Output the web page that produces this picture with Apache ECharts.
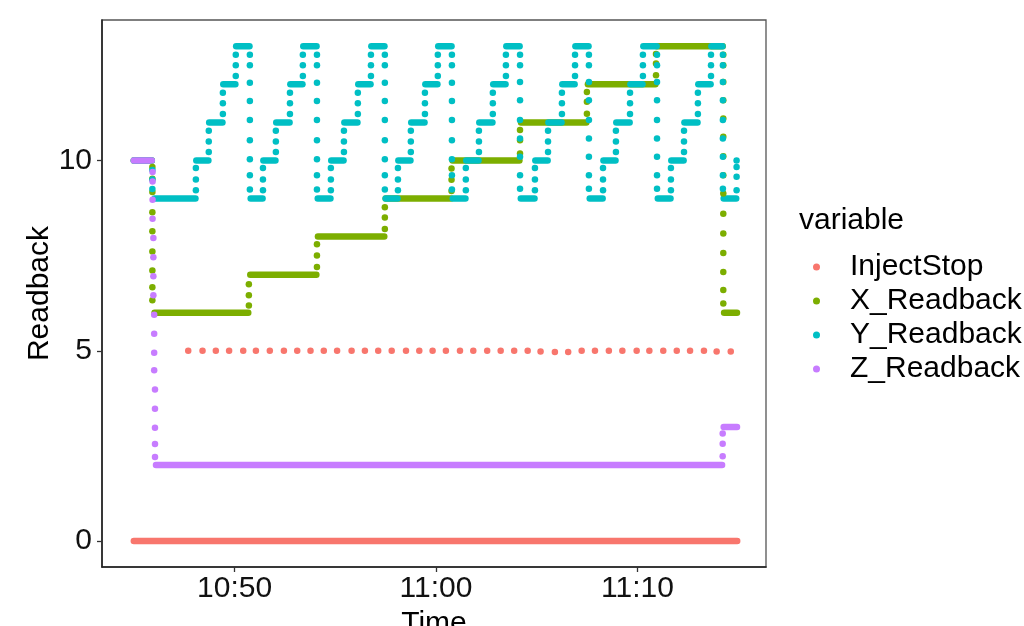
<!DOCTYPE html>
<html>
<head>
<meta charset="utf-8">
<script src="https://cdn.jsdelivr.net/npm/echarts@6/dist/echarts.min.js"></script>
<style>
  html, body { margin: 0; padding: 0; background: #fff; }
  #chart { width: 1024px; height: 626px; }
</style>
</head>
<body>
<div id="chart"></div>
<script>
// time axis is in minutes after 10:00
const xTicks = [50, 60, 70];
const yTicks = [0, 5, 10];
const variables = ['InjectStop', 'X_Readback', 'Y_Readback', 'Z_Readback'];
const colors = ['#F8766D', '#7CAE00', '#00BFC4', '#C77CFF'];

// runs = dense stretches of points held at one value: [from, to, value]
// dots = single readings: [time, [values at that time]]
const injectRuns = [[45.00, 74.95, 0]];
const injectDots = [
  [47.70, [5]], [48.41, [5]], [49.07, [5]], [49.73, [5]], [50.43, [5]], [51.06, [5]],
  [51.75, [5]], [52.45, [5]], [53.11, [5]], [53.77, [5]], [54.43, [5]], [55.09, [5]],
  [55.81, [5]], [56.47, [5]], [57.13, [5]], [57.80, [5]], [58.51, [5]], [59.17, [5]],
  [59.83, [5]], [60.49, [5]], [61.19, [5]], [61.85, [5]], [62.54, [5]], [63.21, [5]],
  [63.88, [5]], [64.55, [5]], [65.19, [4.98]], [65.90, [4.97]], [66.56, [4.97]], [67.23, [5]],
  [67.89, [5]], [68.58, [5]], [69.25, [5]], [69.96, [5]], [70.59, [5]], [71.28, [5]],
  [71.95, [5]], [72.61, [5]], [73.30, [5]], [73.93, [4.98]], [74.63, [4.98]]
];

const xRuns = [
  [45.00, 45.89, 10], [46.03, 50.68, 6], [50.78, 54.06, 7], [54.14, 57.43, 8],
  [57.50, 60.74, 9], [60.82, 64.14, 10], [64.22, 67.46, 11], [67.54, 70.89, 12],
  [70.97, 74.23, 13], [74.30, 74.94, 6]
];
const xDots = [
  [45.92, [9.83, 9.52, 9.17, 8.64, 8.14, 7.61, 7.11, 6.67, 6.33]],
  [50.71, [6.19, 6.46, 6.75]],
  [54.09, [7.2, 7.5, 7.8]],
  [57.46, [8.2, 8.5, 8.77]],
  [60.77, [9.2, 9.49, 9.79]],
  [64.17, [10.18, 10.53, 10.8]],
  [67.49, [11.23, 11.54, 11.8]],
  [70.92, [12.24, 12.55, 12.8]],
  [74.26, [12.78, 12.5, 12.06, 11.58, 11.1, 10.62, 10.11, 9.61, 9.13, 8.6, 8.08, 7.57, 7.07, 6.6, 6.24]]
];

const yRuns = [
  [45.00, 45.89, 10], [46.03, 48.06, 9],
  [48.10, 48.70, 10], [48.74, 49.40, 11], [49.44, 50.04, 12], [50.08, 50.74, 13], [50.80, 51.39, 9],
  [51.43, 52.03, 10], [52.07, 52.73, 11], [52.77, 53.37, 12], [53.41, 54.07, 13], [54.13, 54.76, 9],
  [54.80, 55.41, 10], [55.45, 56.10, 11], [56.14, 56.75, 12], [56.79, 57.44, 13], [57.50, 58.09, 9],
  [58.13, 58.73, 10], [58.77, 59.43, 11], [59.47, 60.07, 12], [60.11, 60.77, 13], [60.83, 61.46, 9],
  [61.50, 62.11, 10], [62.15, 62.80, 11], [62.84, 63.45, 12], [63.49, 64.15, 13], [64.21, 64.89, 9],
  [64.93, 65.54, 10], [65.58, 66.23, 11], [66.27, 66.88, 12], [66.92, 67.57, 13], [67.63, 68.27, 9],
  [68.31, 68.91, 10], [68.95, 69.61, 11], [69.65, 70.25, 12], [70.29, 70.95, 13], [71.01, 71.64, 9],
  [71.68, 72.29, 10], [72.33, 72.98, 11], [73.02, 73.63, 12], [73.67, 74.22, 13], [74.28, 74.90, 9]
];
const yDots = [
  [45.92, [9.75, 9.5, 9.25]],
  [48.08, [9.22, 9.5, 9.8]], [48.72, [10.22, 10.5, 10.78]], [49.42, [11.22, 11.5, 11.78]], [50.06, [12.22, 12.5, 12.78]],
  [50.76, [12.78, 12.5, 12.04, 11.56, 11.06, 10.53, 10.03, 9.61, 9.24]],
  [51.41, [9.22, 9.5, 9.8]], [52.05, [10.22, 10.5, 10.78]], [52.75, [11.22, 11.5, 11.78]], [53.39, [12.22, 12.5, 12.78]],
  [54.09, [12.78, 12.5, 12.04, 11.56, 11.06, 10.53, 10.03, 9.61, 9.24]],
  [54.78, [9.22, 9.5, 9.8]], [55.43, [10.22, 10.5, 10.78]], [56.12, [11.22, 11.5, 11.78]], [56.77, [12.22, 12.5, 12.78]],
  [57.46, [12.78, 12.5, 12.04, 11.56, 11.06, 10.53, 10.03, 9.61, 9.24]],
  [58.11, [9.22, 9.5, 9.8]], [58.75, [10.22, 10.5, 10.78]], [59.45, [11.22, 11.5, 11.78]], [60.09, [12.22, 12.5, 12.78]],
  [60.79, [12.78, 12.5, 12.04, 11.56, 11.06, 10.53, 10.03, 9.61, 9.24]],
  [61.48, [9.22, 9.5, 9.8]], [62.13, [10.22, 10.5, 10.78]], [62.82, [11.22, 11.5, 11.78]], [63.47, [12.22, 12.5, 12.78]],
  [64.17, [12.78, 12.5, 12.06, 11.58, 11.06, 10.58, 10.1, 9.61, 9.26]],
  [64.91, [9.22, 9.5, 9.8]], [65.56, [10.22, 10.5, 10.78]], [66.25, [11.22, 11.5, 11.78]], [66.90, [12.22, 12.5, 12.78]],
  [67.59, [12.78, 12.5, 12.06, 11.58, 11.06, 10.58, 10.1, 9.61, 9.26]],
  [68.29, [9.22, 9.5, 9.8]], [68.93, [10.22, 10.5, 10.78]], [69.63, [11.22, 11.5, 11.78]], [70.27, [12.22, 12.5, 12.78]],
  [70.97, [12.78, 12.5, 12.06, 11.58, 11.06, 10.58, 10.1, 9.61, 9.26]],
  [71.66, [9.22, 9.5, 9.8]], [72.31, [10.22, 10.5, 10.78]], [73.00, [11.22, 11.5, 11.78]], [73.65, [12.22, 12.5, 12.78]],
  [74.24, [12.78, 12.5, 12.06, 11.58, 11.06, 10.58, 10.1, 9.61, 9.26]],
  [74.92, [9.22, 9.57, 9.83, 10]]
];

const zRuns = [[45.00, 45.89, 10], [46.10, 74.20, 2], [74.28, 74.94, 3]];
const zDots = [
  [45.93, [9.7, 9.45, 8.97, 8.47]],
  [45.97, [7.96, 7.46, 6.96, 6.46]],
  [46.01, [5.95, 5.45, 4.95, 4.49]],
  [46.05, [3.98, 3.48, 2.98, 2.55, 2.21]],
  [74.23, [2.23, 2.56, 2.83]]
];

const FONT = '"Liberation Sans", Arial, sans-serif';
const DOT = 6.5;

const flatDots = (cols) => cols.flatMap(([t, vals]) => vals.map((v) => [t, v]));

const runSeries = (name, color, runs) => ({
  name,
  type: 'custom',
  data: runs,
  encode: { x: [0, 1], y: 2 },
  itemStyle: { color },
  renderItem: (params, api) => {
    const a = api.coord([api.value(0), api.value(2)]);
    const b = api.coord([api.value(1), api.value(2)]);
    return {
      type: 'line',
      shape: { x1: a[0], y1: a[1], x2: b[0], y2: b[1] },
      style: { stroke: color, lineWidth: DOT, lineCap: 'round' },
    };
  },
});

const dotSeries = (name, color, cols) => ({
  name,
  type: 'scatter',
  data: flatDots(cols),
  symbolSize: DOT,
  itemStyle: { color, opacity: 1 },
});

const allRuns = [injectRuns, xRuns, yRuns, zRuns];
const allDots = [injectDots, xDots, yDots, zDots];
const series = [];
variables.forEach((name, i) => {
  series.push(runSeries(name, colors[i], allRuns[i]));
  series.push(dotSeries(name, colors[i], allDots[i]));
});

const fmtTime = (v) => {
  const h = 10 + Math.floor(v / 60);
  const m = Math.round(v % 60);
  return `${h}:${String(m).padStart(2, '0')}`;
};

const chart = echarts.init(document.getElementById('chart'));
chart.setOption({
  animation: false,
  backgroundColor: '#fff',
  textStyle: { fontFamily: FONT },
  title: {
    text: 'variable',
    left: 799,
    top: 206,
    padding: 0,
    textStyle: { fontSize: 30, fontWeight: 'normal', color: '#000', fontFamily: FONT },
  },
  legend: {
    data: variables.map((name) => ({ name, icon: 'circle' })),
    orient: 'vertical',
    left: 813,
    top: 252,
    padding: 0,
    itemWidth: 7,
    itemHeight: 7,
    itemGap: 4,
    textStyle: { fontSize: 30, color: '#000', lineHeight: 30, padding: [0, 0, 0, 25], fontFamily: FONT },
  },
  grid: {
    left: 102, right: 258, top: 20, bottom: 59,
    outerBoundsMode: 'none',
    show: true, borderColor: '#555', borderWidth: 1.3,
  },
  xAxis: {
    type: 'value',
    min: 43.42,
    max: 76.38,
    name: 'Time',
    nameLocation: 'middle',
    nameGap: 42,
    nameMoveOverlap: false,
    nameTextStyle: { fontSize: 30, color: '#000', fontFamily: FONT },
    axisLine: { show: true, onZero: false, lineStyle: { color: '#222', width: 1.6 } },
    axisTick: { show: true, length: 5, customValues: xTicks, lineStyle: { color: '#333', width: 1.3 } },
    axisLabel: { customValues: xTicks, formatter: fmtTime, fontSize: 30, color: '#111', margin: 7, fontFamily: FONT },
    splitLine: { show: false },
  },
  yAxis: {
    type: 'value',
    min: -0.68,
    max: 13.69,
    name: 'Readback',
    nameLocation: 'middle',
    nameGap: 47,
    nameMoveOverlap: false,
    nameTextStyle: { fontSize: 30, color: '#000', fontFamily: FONT },
    axisLine: { show: true, onZero: false, lineStyle: { color: '#222', width: 1.6 } },
    axisTick: { show: true, length: 5, customValues: yTicks, lineStyle: { color: '#333', width: 1.3 } },
    axisLabel: { customValues: yTicks, fontSize: 30, color: '#111', margin: 10, fontFamily: FONT },
    splitLine: { show: false },
  },
  series,
});
</script>
</body>
</html>
